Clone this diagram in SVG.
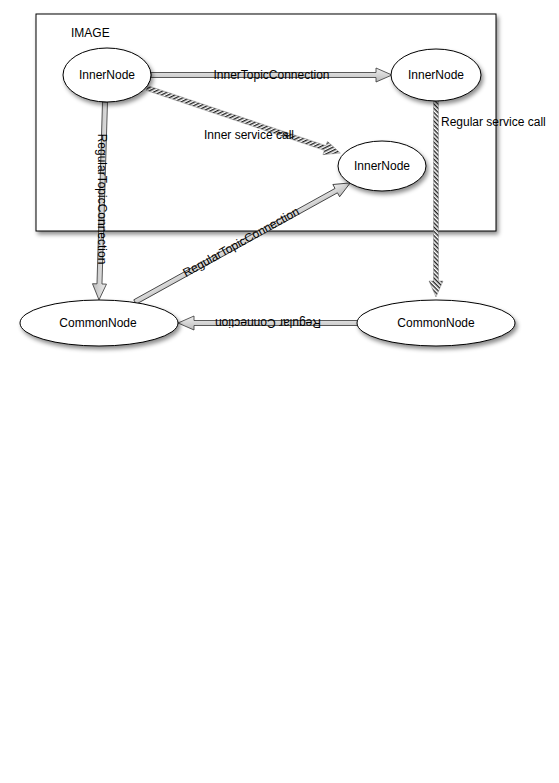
<svg xmlns="http://www.w3.org/2000/svg" width="559" height="783" viewBox="0 0 559 783">
<defs>
<filter id="sh" x="-20%" y="-20%" width="140%" height="150%">
<feDropShadow dx="2" dy="3" stdDeviation="2" flood-color="#000" flood-opacity="0.45"/>
</filter>
<pattern id="hatch" width="3" height="3" patternUnits="userSpaceOnUse" patternTransform="rotate(45)">
<rect width="3" height="3" fill="#fff"/>
<rect width="1.4" height="3" fill="#222"/>
</pattern>
<linearGradient id="shaft" x1="0" y1="0" x2="0" y2="1">
<stop offset="0" stop-color="#eee"/>
<stop offset="1" stop-color="#bbb"/>
</linearGradient>
</defs>
<style>
.node ellipse{fill:#fff;stroke:#000;stroke-width:1}
.lbl{font-family:"Liberation Sans",Arial,sans-serif;font-size:12px;fill:#000}
.mid{text-anchor:middle}
.block{fill:url(#shaft);stroke:#333;stroke-width:0.8}
.hatched{fill:url(#hatch);stroke:#777;stroke-width:0.4}
</style>
<g id="image-container">
<rect x="36" y="14" width="460" height="217" fill="#fff" stroke="#000" stroke-width="1" filter="url(#sh)"/>
<text class="lbl" x="71" y="37">IMAGE</text>
</g>
<g id="connectors">
<g id="c-innertopic">
<polygon class="block" points="151,72.5 376,72.5 376,68 392,75 376,82 376,77.5 151,77.5"/>
<text class="lbl mid" x="271.5" y="79">InnerTopicConnection</text>
</g>
<g id="c-innerservice">
<polygon class="hatched" transform="translate(147,88) rotate(18.61)" points="0,-2.5 188,-2.5 188,-7 204,0 188,7 188,2.5 0,2.5"/>
<text class="lbl" x="204" y="139">Inner service call</text>
</g>
<g id="c-regularservice">
<polygon class="hatched" transform="translate(436,101) rotate(90)" points="0,-2.5 180,-2.5 180,-7 196,0 180,7 180,2.5 0,2.5"/>
<text class="lbl" x="441" y="126">Regular service call</text>
</g>
<g id="c-regtopic1">
<polygon class="block" transform="translate(105,102) rotate(91.74)" points="0,-2.5 182,-2.5 182,-7 198,0 182,7 182,2.5 0,2.5"/>
<text class="lbl mid" transform="translate(102,199) rotate(90)" x="0" y="4">RegularTopicConnection</text>
</g>
<g id="c-regtopic2">
<polygon class="block" transform="translate(135,302) rotate(-28.96)" points="0,-2.5 230,-2.5 230,-7 246,0 230,7 230,2.5 0,2.5"/>
<text class="lbl mid" transform="translate(241,242) rotate(-28.96)" x="0" y="4">RegularTopicConnection</text>
</g>
<g id="c-regular">
<polygon class="block" points="358,320.5 194,320.5 194,316 178,323 194,330 194,325.5 358,325.5"/>
<text class="lbl mid" transform="translate(268,323) rotate(180)" x="0" y="4">Regular Connection</text>
</g>
</g>
<g id="inner1" class="node">
<ellipse cx="107" cy="75" rx="44" ry="27" filter="url(#sh)"/>
<text class="lbl mid" x="107" y="79">InnerNode</text>
</g>
<g id="inner2" class="node">
<ellipse cx="436" cy="75" rx="45" ry="26" filter="url(#sh)"/>
<text class="lbl mid" x="436" y="79">InnerNode</text>
</g>
<g id="inner3" class="node">
<ellipse cx="382" cy="166" rx="44" ry="25" filter="url(#sh)"/>
<text class="lbl mid" x="382" y="170">InnerNode</text>
</g>
<g id="common1" class="node">
<ellipse cx="99" cy="323" rx="79" ry="23" filter="url(#sh)"/>
<text class="lbl mid" x="98" y="327">CommonNode</text>
</g>
<g id="common2" class="node">
<ellipse cx="436" cy="323" rx="79" ry="23" filter="url(#sh)"/>
<text class="lbl mid" x="436" y="327">CommonNode</text>
</g>
</svg>
